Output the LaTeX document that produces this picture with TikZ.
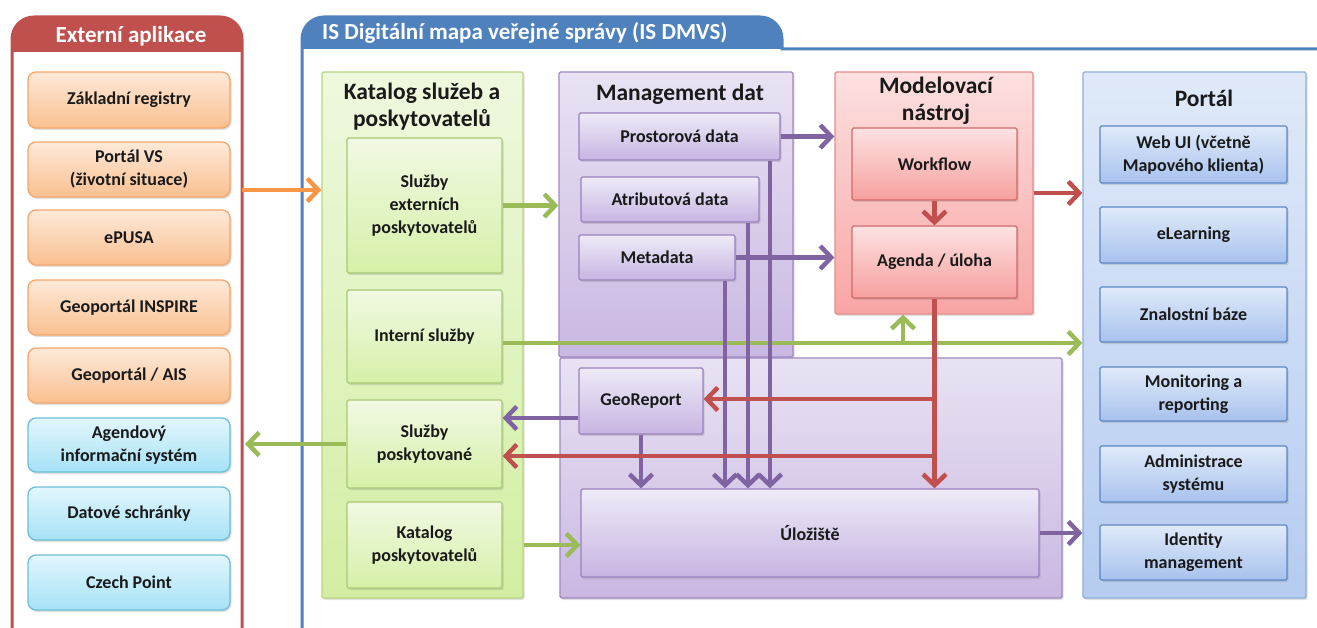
\documentclass[tikz,border=0pt]{standalone}
\usepackage{fontspec}
\setmainfont{Carlito}
\usetikzlibrary{arrows.meta,shadows}
\definecolor{lnOr}{HTML}{F79646}
\definecolor{lnGr}{HTML}{9BBB59}
\definecolor{lnPu}{HTML}{8064A2}
\definecolor{lnRe}{HTML}{C0504D}
\definecolor{frBl}{HTML}{4F81BD}
\definecolor{frRe}{HTML}{C0504D}
\definecolor{orTop}{HTML}{FDE9D9}
\definecolor{orBot}{HTML}{FAC090}
\definecolor{orDr}{HTML}{F5A66A}
\definecolor{cyTop}{HTML}{E2F6FD}
\definecolor{cyBot}{HTML}{A6E2F6}
\definecolor{cyDr}{HTML}{6CBFD8}
\definecolor{gpTop}{HTML}{EEF8DE}
\definecolor{gpBot}{HTML}{D3EEA2}
\definecolor{gpDr}{HTML}{B6D67E}
\definecolor{gbTop}{HTML}{F1F9E3}
\definecolor{gbBot}{HTML}{D6F0A8}
\definecolor{gbDr}{HTML}{A9C974}
\definecolor{ppTop}{HTML}{E9E2F3}
\definecolor{ppBot}{HTML}{C9B8E2}
\definecolor{ppDr}{HTML}{9F88C0}
\definecolor{pbTop}{HTML}{EFEAF7}
\definecolor{pbBot}{HTML}{C7B5E2}
\definecolor{pbDr}{HTML}{9A81BC}
\definecolor{rpTop}{HTML}{FDE0E0}
\definecolor{rpBot}{HTML}{F8A5A4}
\definecolor{rpDr}{HTML}{E58D8B}
\definecolor{rbTop}{HTML}{FDE2E2}
\definecolor{rbBot}{HTML}{F5A09E}
\definecolor{rbDr}{HTML}{CF6B69}
\definecolor{bpTop}{HTML}{DFE9F9}
\definecolor{bpBot}{HTML}{B5CCF0}
\definecolor{bpDr}{HTML}{8DAEDC}
\definecolor{bbTop}{HTML}{E0EAF9}
\definecolor{bbBot}{HTML}{A8C2EE}
\definecolor{bbDr}{HTML}{5B87C4}
\definecolor{txt}{HTML}{1A1A1A}

\newcommand{\placebox}[7]{%
  \node[#6, minimum width={#4-#2}, minimum height={#5-#3}] (#1) at ({(#2+#4)/2},{(#3+#5)/2}) {#7};}

\tikzset{
  every node/.style={font=\bfseries\fontsize{18}{23}\selectfont, align=center, text=txt, inner sep=2pt},
  shd/.style={drop shadow={opacity=0.25, shadow xshift=1.5pt, shadow yshift=-2pt}},
  orbox/.style={shd, rounded corners=8pt, draw=orDr, line width=1.3pt, top color=orTop, bottom color=orBot},
  cybox/.style={shd, rounded corners=8pt, draw=cyDr, line width=1.3pt, top color=cyTop, bottom color=cyBot},
  gpanel/.style={shd, rounded corners=1.5pt, draw=gpDr, line width=1.3pt, top color=gpTop, bottom color=gpBot},
  gbox/.style={shd, rounded corners=1.5pt, draw=gbDr, line width=1.3pt, top color=gbTop, bottom color=gbBot},
  ppanel/.style={shd, rounded corners=1.5pt, draw=ppDr, line width=1.3pt, top color=ppTop, bottom color=ppBot},
  pbox/.style={shd, rounded corners=1.5pt, draw=pbDr, line width=1.3pt, top color=pbTop, bottom color=pbBot},
  rpanel/.style={shd, rounded corners=1.5pt, draw=rpDr, line width=1.3pt, top color=rpTop, bottom color=rpBot},
  rbox/.style={shd, rounded corners=1.5pt, draw=rbDr, line width=1.3pt, top color=rbTop, bottom color=rbBot},
  bpanel/.style={shd, rounded corners=1.5pt, draw=bpDr, line width=1.3pt, top color=bpTop, bottom color=bpBot},
  bbox/.style={shd, rounded corners=1.5pt, draw=bbDr, line width=1.3pt, top color=bbTop, bottom color=bbBot},
  ptitle/.style={font=\bfseries\fontsize{23.5}{27}\selectfont, inner sep=0pt},
  htitle/.style={font=\bfseries\fontsize{23}{27}\selectfont, text=white, inner sep=0pt},
  conn/.style={line width=4.5pt, -{Straight Barb[length=11pt,width=23pt]}},
  cOr/.style={conn, draw=lnOr},
  cGr/.style={conn, draw=lnGr},
  cPu/.style={conn, draw=lnPu},
  cRe/.style={conn, draw=lnRe},
}

\begin{document}
\begin{tikzpicture}[x=1pt,y=-1pt]
\useasboundingbox (0,0) rectangle (1317,628);
\fill[white] (0,0) rectangle (1317,628);

% ---- Externi aplikace frame
\fill[frRe] (12,52) -- (12,39) arc[start angle=180,end angle=270,radius=22] -- (220,17)
  arc[start angle=270,end angle=360,radius=22] -- (242,52) -- cycle;
\draw[frRe, line width=3pt] (12,640) -- (12,39) arc[start angle=180,end angle=270,radius=22] -- (220,17)
  arc[start angle=270,end angle=360,radius=22] -- (242,640);
\node[htitle] (extT) at (131,36) {Externí aplikace};

% ---- IS DMVS frame
\fill[frBl] (302,49) -- (302,39) arc[start angle=180,end angle=270,radius=22] -- (760,17)
  arc[start angle=270,end angle=360,radius=22] -- (782,49) -- cycle;
\draw[frBl, line width=3pt] (302,640) -- (302,39) arc[start angle=180,end angle=270,radius=22] -- (760,17)
  arc[start angle=270,end angle=360,radius=22] -- (782,49) -- (1320,49);
\node[htitle, anchor=west] (isT) at (322,33) {IS Digitální mapa veřejné správy (IS DMVS)};

% ---- external boxes
\placebox{zr}{28}{72}{230}{128}{orbox}{Základní registry}
\placebox{pvs}{28}{142}{230}{197}{orbox}{Portál VS\\(životní situace)}
\placebox{epusa}{28}{210}{230}{265}{orbox}{ePUSA}
\placebox{gins}{28}{280}{230}{335}{orbox}{Geoportál INSPIRE}
\placebox{gais}{28}{348}{230}{403}{orbox}{Geoportál / AIS}
\placebox{ais}{28}{418}{230}{472}{cybox}{Agendový\\informační systém}
\placebox{ds}{28}{487}{230}{540}{cybox}{Datové schránky}
\placebox{cp}{28}{555}{230}{610}{cybox}{Czech Point}

% ---- panels
\placebox{kat}{322}{72}{523}{598}{gpanel}{}
\placebox{md}{559}{72}{793}{357}{ppanel}{}
\placebox{mdl}{560}{358}{1062}{598}{ppanel}{}
\placebox{mod}{835}{72}{1033}{314}{rpanel}{}
\placebox{portal}{1083}{72}{1306}{598}{bpanel}{}

\node[ptitle] (katT) at (422,107) {Katalog služeb a\\poskytovatelů};
\node[ptitle] (mdT) at (680,94) {Management dat};
\node[ptitle] (modT) at (936,101) {Modelovací\\nástroj};
\node[ptitle] (portT) at (1204,98) {Portál};

% ---- green boxes
\placebox{sep}{347}{138}{502}{273}{gbox}{Služby\\externích\\poskytovatelů}
\placebox{int}{347}{290}{502}{383}{gbox}{Interní služby}
\placebox{sp}{347}{400}{502}{488}{gbox}{Služby\\poskytované}
\placebox{kp}{347}{502}{502}{588}{gbox}{Katalog\\poskytovatelů}

% ---- purple boxes
\placebox{pd}{579}{113}{780}{160}{pbox}{Prostorová data}
\placebox{atr}{581}{177}{759}{222}{pbox}{Atributová data}
\placebox{meta}{579}{235}{735}{280}{pbox}{Metadata}
\placebox{geo}{579}{368}{703}{434}{pbox}{GeoReport}
\placebox{ulo}{581}{489}{1039}{577}{pbox}{Úložiště}

% ---- red boxes
\placebox{wf}{852}{128}{1017}{200}{rbox}{Workflow}
\placebox{ag}{852}{226}{1017}{298}{rbox}{Agenda / úloha}

% ---- portal boxes
\placebox{web}{1100}{126}{1287}{183}{bbox}{Web UI (včetně\\Mapového klienta)}
\placebox{elr}{1100}{207}{1287}{263}{bbox}{eLearning}
\placebox{zb}{1100}{287}{1287}{342}{bbox}{Znalostní báze}
\placebox{mon}{1100}{367}{1287}{421}{bbox}{Monitoring a\\reporting}
\placebox{adm}{1100}{446}{1287}{502}{bbox}{Administrace\\systému}
\placebox{idm}{1100}{525}{1287}{580}{bbox}{Identity\\management}

% ---- helper coordinates
\coordinate (extR1) at (242,190);
\coordinate (extR2) at (245,444);
\coordinate (yInt) at (0,343);
\coordinate (gBr) at (903,343);
\coordinate (yGeo) at (0,418);
\coordinate (v1) at (770,0);
\coordinate (v2) at (748,0);
\coordinate (v3) at (725,0);
\coordinate (yR1) at (0,399);
\coordinate (yR2) at (0,456);

% ---- connectors
\draw[cOr] (extR1) -- (extR1 -| kat.west);
\draw[cGr] (sep.east) -- (sep.east -| md.west);
\draw[cGr] (int.east |- yInt) -- (portal.west |- yInt);
\draw[cGr] (gBr) -- (gBr |- mod.south);
\draw[cGr] (sp.west) -- (extR2);
\draw[cGr] (kat.east |- kp.east) -- (kp.east -| ulo.west);

\draw[cPu] (pd.east) -- (pd.east -| mod.west);
\draw[cPu] (meta.east) -- (meta.east -| mod.west);
\draw[cPu] (pd.south -| v1) -- (ulo.north -| v1);
\draw[cPu] (atr.south -| v2) -- (ulo.north -| v2);
\draw[cPu] (meta.south -| v3) -- (ulo.north -| v3);
\draw[cPu] (geo.west |- yGeo) -- (sp.east |- yGeo);
\draw[cPu] (geo.south) -- (geo.south |- ulo.north);
\draw[cPu] (ulo.east) -- (ulo.east -| portal.west);

\draw[cRe] (wf.south) -- (ag.north);
\draw[cRe] (mod.east) -- (mod.east -| portal.west);
\draw[cRe] (ag.south) -- (ag.south |- ulo.north);
\draw[cRe] (ag.south |- yR1) -- (geo.east |- yR1);
\draw[cRe] (ag.south |- yR2) -- (sp.east |- yR2);
\end{tikzpicture}
\end{document}
